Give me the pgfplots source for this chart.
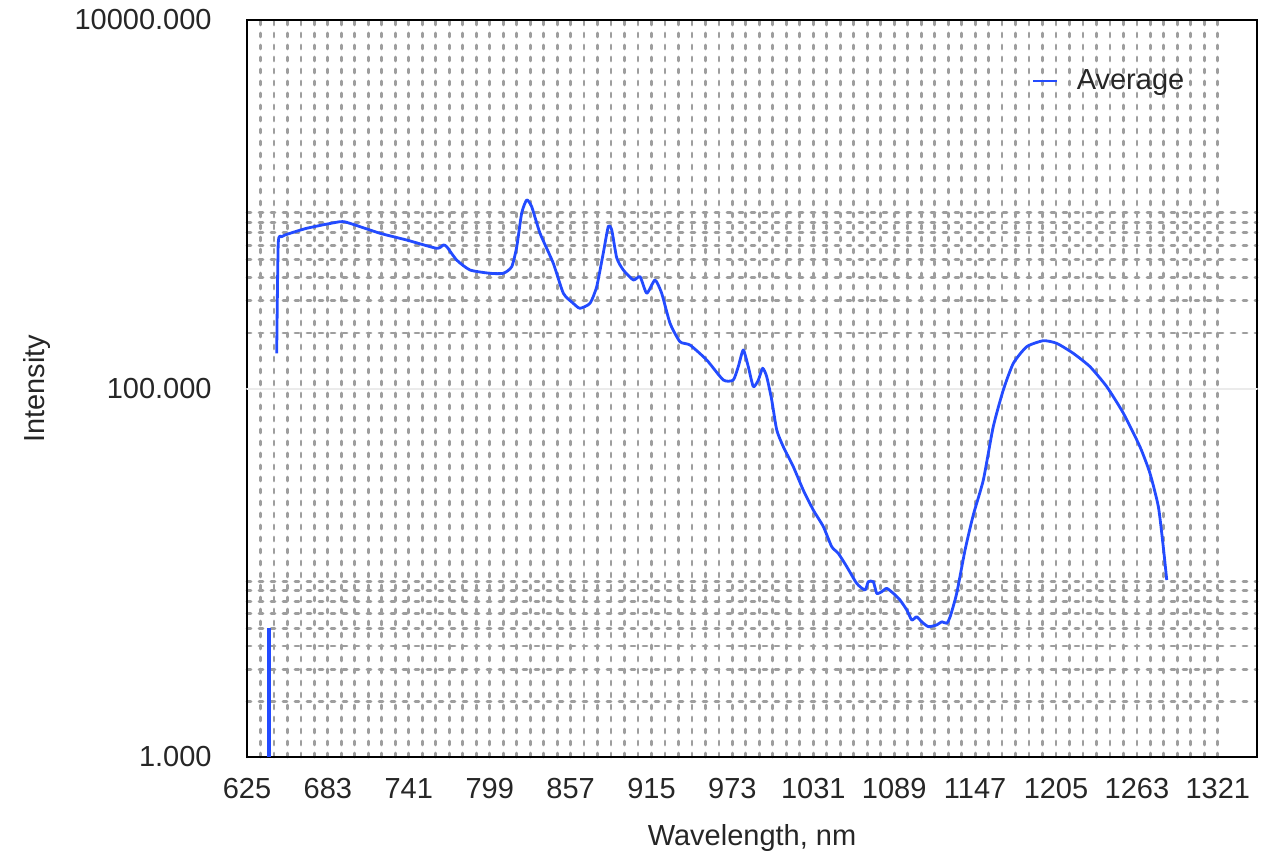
\documentclass[border=0pt]{standalone}
\usepackage{pgfplots}
\pgfplotsset{compat=1.18}
\usepackage{fontspec}
\setmainfont{Liberation Sans}
\definecolor{curve}{RGB}{35,75,255}
\definecolor{gridc}{RGB}{158,158,158}
\begin{document}
\begin{tikzpicture}
\begin{semilogyaxis}[
  scale only axis,
  width=505pt, height=368.5pt,
  xmin=625, xmax=1349.1,
  ymin=1, ymax=10000,
  xtick={625,683,741,799,857,915,973,1031,1089,1147,1205,1263,1321},
  xticklabels={625,683,741,799,857,915,973,1031,1089,1147,1205,1263,1321},
  ytick={1,100,10000},
  yticklabels={1.000,100.000,10000.000},
  minor x tick num=5,
  minor ytick={2,3,4,5,6,7,8,9,200,300,400,500,600,700,800,900},
  major tick length=0pt, minor tick length=0pt,
  xmajorgrids, xminorgrids, yminorgrids,
  major grid style={gridc, line width=1.4pt, line cap=round, dash pattern=on 2pt off 4pt},
  minor grid style={gridc, line width=1.4pt, line cap=round, dash pattern=on 2pt off 4pt},
  extra y ticks={100},
  extra y tick labels={},
  extra y tick style={grid=major, major grid style={black!8, solid, line width=1pt}},
  axis line style={black, line width=1.4pt},
  every tick label/.append style={font=\fontsize{14.5}{17}\selectfont, text=black!85},
  xticklabel style={anchor=north, inner sep=0pt, yshift=-10.5pt},
  yticklabel style={anchor=east, inner sep=0pt, xshift=-17.5pt},
  xlabel={Wavelength, nm},
  ylabel={Intensity},
  label style={font=\fontsize{14.5}{17}\selectfont, text=black!85},
  xlabel style={at={(axis description cs:0.5,-0.1194)}, anchor=base},
  ylabel style={at={(axis description cs:-0.2,0.5)}, anchor=base},
  legend style={draw=none, fill=none, inner sep=0pt, outer sep=0pt,
    nodes={inner sep=0pt}, column sep=9pt,
    at={(axis description cs:0.7772,0.9172)}, anchor=west,
    font=\fontsize{14.5}{17}\selectfont, text=black!85},
  legend image code/.code={\draw[#1] (0pt,0pt) -- (12pt,0pt);},
]
\addplot[curve, line width=1.4pt, line join=round, smooth, tension=0.35] table {
x y
646.3 155.2
647.4 614
649.9 666.7
652.2 681
667.8 740.5
691.7 804
698.8 788
720.4 695.7
739.5 639.7
761.0 576.6
765.7 600.9
768.2 588.3
775.3 498.2
784.9 439.7
799.2 422.0
808.8 422.0
814.8 458.3
818.4 588.3
821.9 893
825.5 1054.6
829.1 969.9
835.1 695.7
844.6 478.2
851.8 328.7
858.9 290.0
863.7 272.5
870.9 290.0
875.7 356.9
880.4 541.7
884.0 755.4
886.5 724.8
890.1 510.9
894.8 439.7
902.0 388.0
906.8 404.4
911.6 328.7
917.5 388.0
922.3 328.7
928.3 225.9
935.4 179.5
942.6 172.2
954.6 142.8
966.5 111.2
973.6 111.2
977.2 131.3
980.8 161.8
984.4 131.3
988.0 102.3
991.6 111.2
994.7 128.8
997.6 115.9
1001.2 86.6
1004.8 59.5
1009.5 48.3
1016.7 37.6
1023.8 28.1
1031.0 21.9
1038.2 17.8
1044.2 13.85
1048.9 12.75
1055.0 10.79
1062.1 8.76
1068.1 8.06
1070.4 8.94
1074.0 8.94
1076.5 7.73
1080.0 7.89
1083.6 8.23
1088.4 7.73
1093.2 7.11
1098.0 6.28
1101.6 5.54
1105.1 5.77
1108.7 5.42
1113.5 5.10
1119.5 5.21
1123.1 5.42
1126.7 5.32
1129.1 5.77
1133.8 7.73
1139.8 13.29
1145.7 20.6
1152.9 31.9
1160.0 62.0
1167.2 98.1
1174.4 137.0
1184.0 168.6
1195.9 181.7
1205.5 175.9
1217.4 155.2
1229.4 131.3
1241.4 102.3
1253.3 73.4
1265.2 48.3
1272.4 34.6
1278.4 22.8
1281.9 13.85
1284.4 9.13
};
\addlegendentry{Average}
\addplot[curve, line width=2pt, forget plot] table {
x y
641.1 1
641.1 5.0
};
\end{semilogyaxis}
\path ([shift={(-123.5pt,-52pt)}]current axis.south west) rectangle ([shift={(12pt,10pt)}]current axis.north east);
\end{tikzpicture}
\end{document}
